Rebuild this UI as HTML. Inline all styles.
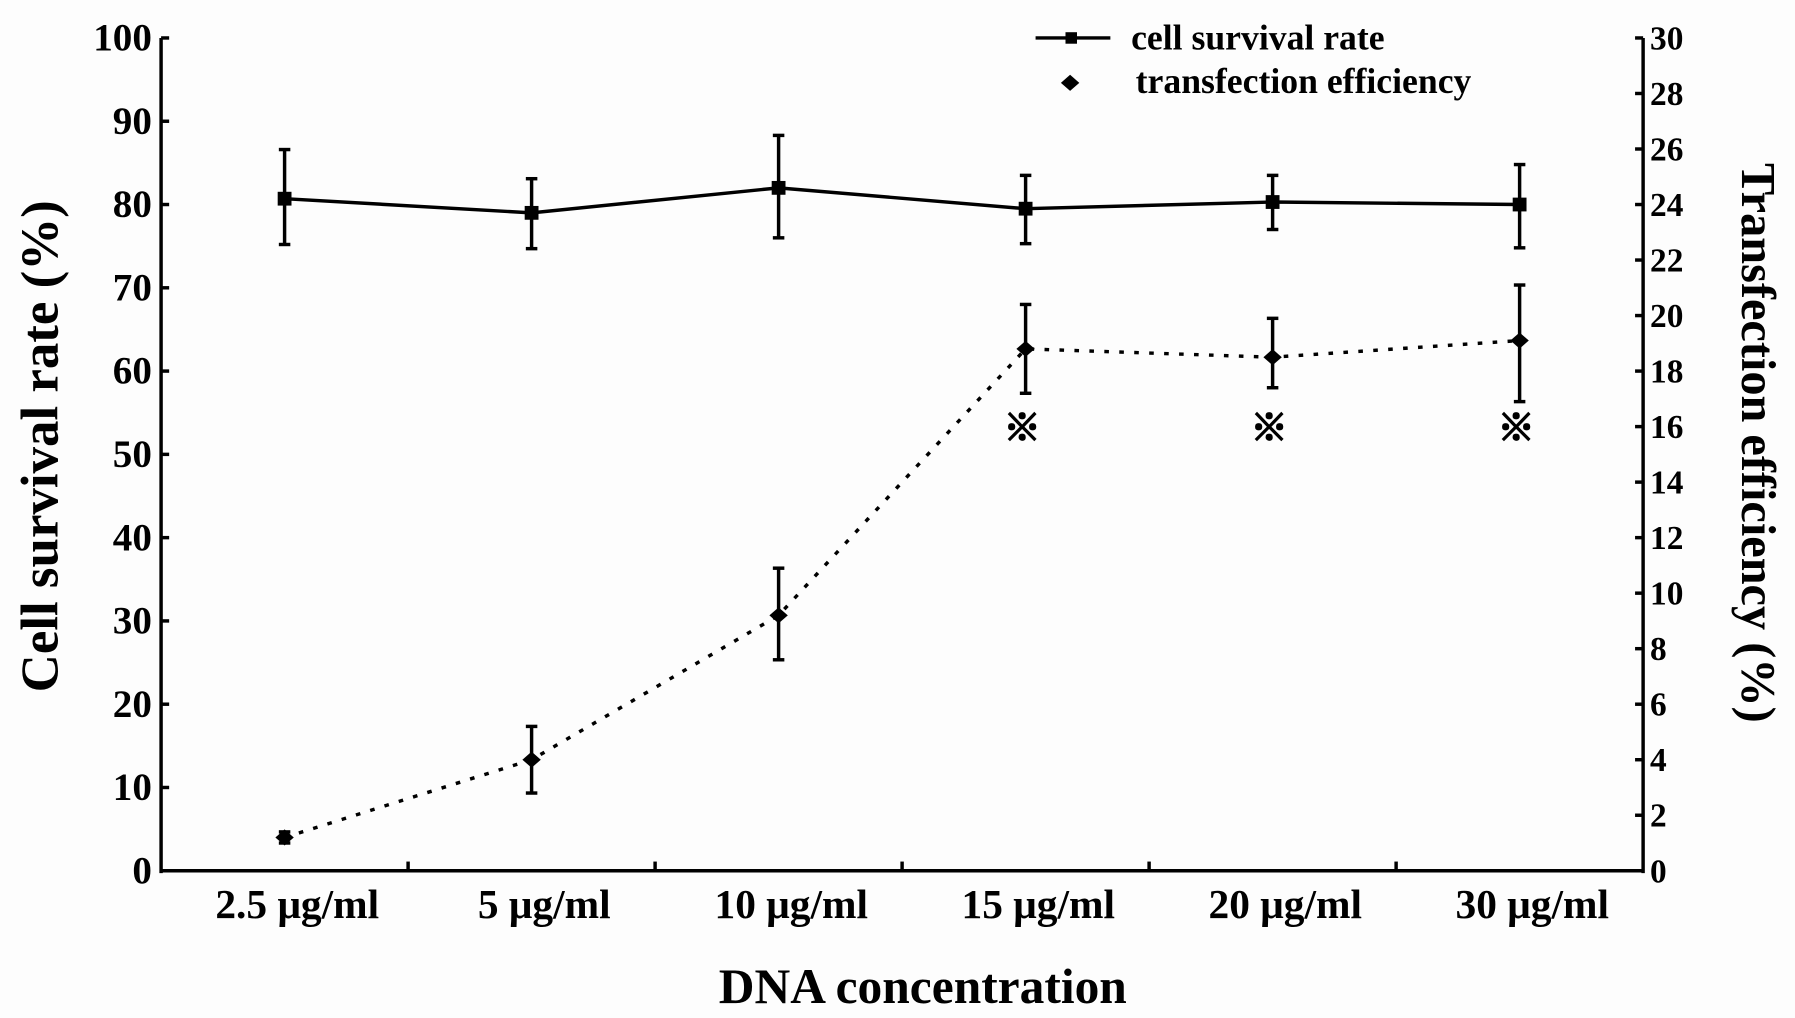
<!DOCTYPE html>
<html><head><meta charset="utf-8"><style>
html,body{margin:0;padding:0;background:#fff;}
svg{display:block;font-family:"Liberation Serif",serif;font-weight:bold;}
</style></head><body>
<svg id="chart" width="1795" height="1018" viewBox="0 0 1560 885" preserveAspectRatio="none" xmlns="http://www.w3.org/2000/svg">
<rect width="1560" height="885" fill="#fdfdfd"/>
<g id="g"></g>
</svg>
<script>
const categories=["2.5 μg/ml","5 μg/ml","10 μg/ml","15 μg/ml","20 μg/ml","30  μg/ml"];
const survival=[80.7,79.0,82.0,79.5,80.3,80.0];
const survivalLo=[75.2,74.7,76.0,75.3,77.0,74.8];
const survivalHi=[86.6,83.1,88.3,83.5,83.5,84.8];
const transfection=[1.2,4.0,9.2,18.8,18.5,19.1];
const transLo=[1.0,2.8,7.6,17.2,17.4,16.9];
const transHi=[1.4,5.2,10.9,20.4,19.9,21.1];
const significant=[false,false,false,true,true,true];
const leftTicks=[0,10,20,30,40,50,60,70,80,90,100];
const rightTicks=[0,2,4,6,8,10,12,14,16,18,20,22,24,26,28,30];

const NS="http://www.w3.org/2000/svg";
const g=document.getElementById('g');
const L=140,R=1428,T=33,B=757;
const n=categories.length, step=(R-L)/n;
const xc=i=>L+step*(i+0.5);
const yl=v=>B-(v/100)*(B-T);
const yr=v=>B-(v/30)*(B-T);
function mk(tag,attrs,name,text){const e=document.createElementNS(NS,tag);for(const k in attrs)e.setAttribute(k,attrs[k]);


if(text!==undefined)e.textContent=text;g.appendChild(e);return e;}

// axes
mk('line',{x1:L,y1:T,x2:L,y2:B+2,stroke:'#000','stroke-width':3},'left-axis');
mk('line',{x1:R,y1:T,x2:R,y2:B+2,stroke:'#000','stroke-width':3},'right-axis');
mk('line',{x1:L-1,y1:B,x2:R+1,y2:B,stroke:'#000','stroke-width':3},'x-axis');
leftTicks.forEach(v=>{mk('line',{x1:L,y1:yl(v),x2:L+7,y2:yl(v),stroke:'#000','stroke-width':3},'left-tick');
mk('text',{x:L-8,y:yl(v)+11,'text-anchor':'end','font-size':34},'left-tick-label',String(v));});
rightTicks.forEach(v=>{mk('line',{x1:R-7,y1:yr(v),x2:R,y2:yr(v),stroke:'#000','stroke-width':3},'right-tick');
mk('text',{x:R+6,y:yr(v)+10,'font-size':29},'right-tick-label',String(v));});
for(let i=1;i<n;i++)mk('line',{x1:L+step*i,y1:B,x2:L+step*i,y2:B-8,stroke:'#000','stroke-width':3},'x-tick');
categories.forEach((c,i)=>mk('text',{x:xc(i)+11,y:798,'text-anchor':'middle','font-size':36},'x-tick-label',c));

// survival line
let d=survival.map((v,i)=>(i?'L':'M')+xc(i)+','+yl(v)).join(' ');
mk('path',{d:d,fill:'none',stroke:'#000','stroke-width':3},'survival-line');
survival.forEach((v,i)=>{const x=xc(i);
mk('line',{x1:x,y1:yl(survivalLo[i]),x2:x,y2:yl(survivalHi[i]),stroke:'#000','stroke-width':3},'survival-error-bar');
mk('line',{x1:x-5,y1:yl(survivalLo[i]),x2:x+5,y2:yl(survivalLo[i]),stroke:'#000','stroke-width':3},'survival-error-cap');
mk('line',{x1:x-5,y1:yl(survivalHi[i]),x2:x+5,y2:yl(survivalHi[i]),stroke:'#000','stroke-width':3},'survival-error-cap');
mk('rect',{x:x-6,y:yl(v)-6,width:12,height:12,fill:'#000'},'survival-point');});

// transfection dotted line
let d2=transfection.map((v,i)=>(i?'L':'M')+xc(i)+','+yr(v)).join(' ');
mk('path',{d:d2,fill:'none',stroke:'#000','stroke-width':3,'stroke-dasharray':'4 9'},'transfection-line');
transfection.forEach((v,i)=>{const x=xc(i),y=yr(v);
mk('line',{x1:x,y1:yr(transLo[i]),x2:x,y2:yr(transHi[i]),stroke:'#000','stroke-width':3},'transfection-error-bar');
mk('line',{x1:x-5,y1:yr(transLo[i]),x2:x+5,y2:yr(transLo[i]),stroke:'#000','stroke-width':3},'transfection-error-cap');
mk('line',{x1:x-5,y1:yr(transHi[i]),x2:x+5,y2:yr(transHi[i]),stroke:'#000','stroke-width':3},'transfection-error-cap');
mk('path',{d:`M${x-8},${y} L${x},${y-7} L${x+8},${y} L${x},${y+7}Z`,fill:'#000'},'transfection-point');
if(significant[i])mk('text',{x:x-3,y:383,'text-anchor':'middle','font-size':32,'stroke':'#000','stroke-width':1.5,'font-family':'"Liberation Sans","Noto Sans CJK SC",sans-serif'},'significance-mark','※');});

// legend
mk('line',{x1:900,y1:33,x2:965,y2:33,stroke:'#000','stroke-width':3},'legend-survival-line');
mk('rect',{x:926,y:28,width:10,height:10,fill:'#000'},'legend-survival-marker');
mk('text',{x:983,y:43,'font-size':31},'legend-survival-label','cell survival rate');
mk('path',{d:'M922,72 L930,65 L938,72 L930,79Z',fill:'#000'},'legend-transfection-marker');
mk('text',{x:987,y:81,'font-size':31},'legend-transfection-label','transfection efficiency');

// axis titles
mk('text',{x:0,y:0,'font-size':46,'text-anchor':'middle',transform:'translate(50,388) rotate(-90)'},'left-axis-title','Cell survival rate (%)');
mk('text',{x:0,y:0,'font-size':42,'text-anchor':'middle',transform:'translate(1514,385) rotate(90)'},'right-axis-title','Transfection efficiency (%)');
mk('text',{x:802,y:872,'font-size':43,'text-anchor':'middle'},'x-axis-title','DNA concentration');
</script>
</body></html>
